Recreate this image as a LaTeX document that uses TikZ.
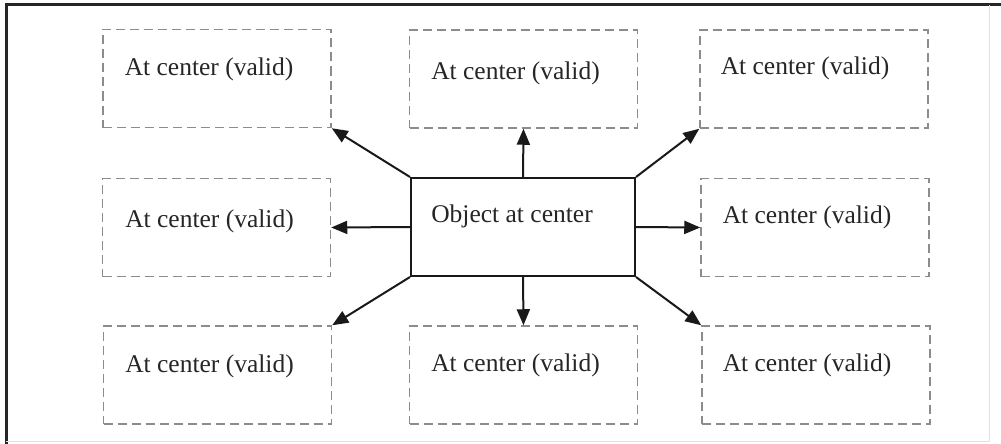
\documentclass[tikz,border=0pt]{standalone}
\usepackage{fontspec}
\setmainfont{Liberation Serif}
\usetikzlibrary{arrows.meta}
\begin{document}
\begin{tikzpicture}[x=1pt,y=-1pt,
  dbox/.style={draw=black!45, line width=1.5pt, dash pattern=on 9pt off 5pt, rectangle, inner sep=0pt, minimum width=228pt, minimum height=98pt},
  cbox/.style={draw=black!90, line width=2pt, rectangle, inner sep=0pt, minimum width=224pt, minimum height=98pt},
  lbl/.style={font=\fontsize{25.5}{30}\selectfont, text=black!85, inner sep=0pt},
  arr/.style={draw=black!90, line width=2pt, -{Triangle[length=16pt,width=13pt]}}]
\useasboundingbox (0,0) rectangle (1001,444);
\fill[white] (0,0) rectangle (1001,444);
% frame
\coordinate (f1) at (4,5);
\coordinate (f2) at (1001,5);
\coordinate (f3) at (6,444);
\coordinate (f4) at (989,5);
\coordinate (f5) at (989,441);
\coordinate (f6) at (6,441);
\draw[black!85, line width=3pt] (f3) -- (6,5) -- (f2);
\draw[black!12, line width=0.8pt] (f4) -- (f5) -- (f6);
% boxes
\node[dbox] (tl) at (217,78.5) {};
\node[dbox] (tm) at (523.5,79) {};
\node[dbox] (tr) at (814,79) {};
\node[dbox] (ml) at (216.5,227.5) {};
\node[dbox] (mr) at (815,227.5) {};
\node[dbox] (bl) at (217.5,375) {};
\node[dbox] (bm) at (523.5,375) {};
\node[dbox] (br) at (816,375) {};
\node[cbox] (c) at (523,227) {};
% labels
\node[lbl] (ttl) at ([shift={(-8,-9)}]tl.center) {At center (valid)};
\node[lbl] (ttm) at ([shift={(-8,-6)}]tm.center) {At center (valid)};
\node[lbl] (ttr) at ([shift={(-9,-11)}]tr.center) {At center (valid)};
\node[lbl] (tml) at ([shift={(-7,-6)}]ml.center) {At center (valid)};
\node[lbl] (tmr) at ([shift={(-8,-10)}]mr.center) {At center (valid)};
\node[lbl] (tbl) at ([shift={(-8,-9)}]bl.center) {At center (valid)};
\node[lbl] (tbm) at ([shift={(-8,-10)}]bm.center) {At center (valid)};
\node[lbl] (tbr) at ([shift={(-9,-10)}]br.center) {At center (valid)};
\node[lbl] (tc) at ([shift={(-11,-11)}]c.center) {Object at center};
% arrows
\draw[arr] (c.north west) -- (tl.south east);
\draw[arr] (c.north) -- (tm.south);
\draw[arr] (c.north east) -- (tr.south west);
\draw[arr] (c.west) -- (ml.east);
\draw[arr] (c.east) -- (mr.west);
\draw[arr] (c.south west) -- (bl.north east);
\draw[arr] (c.south) -- (bm.north);
\draw[arr] (c.south east) -- (br.north west);
\end{tikzpicture}
\end{document}
